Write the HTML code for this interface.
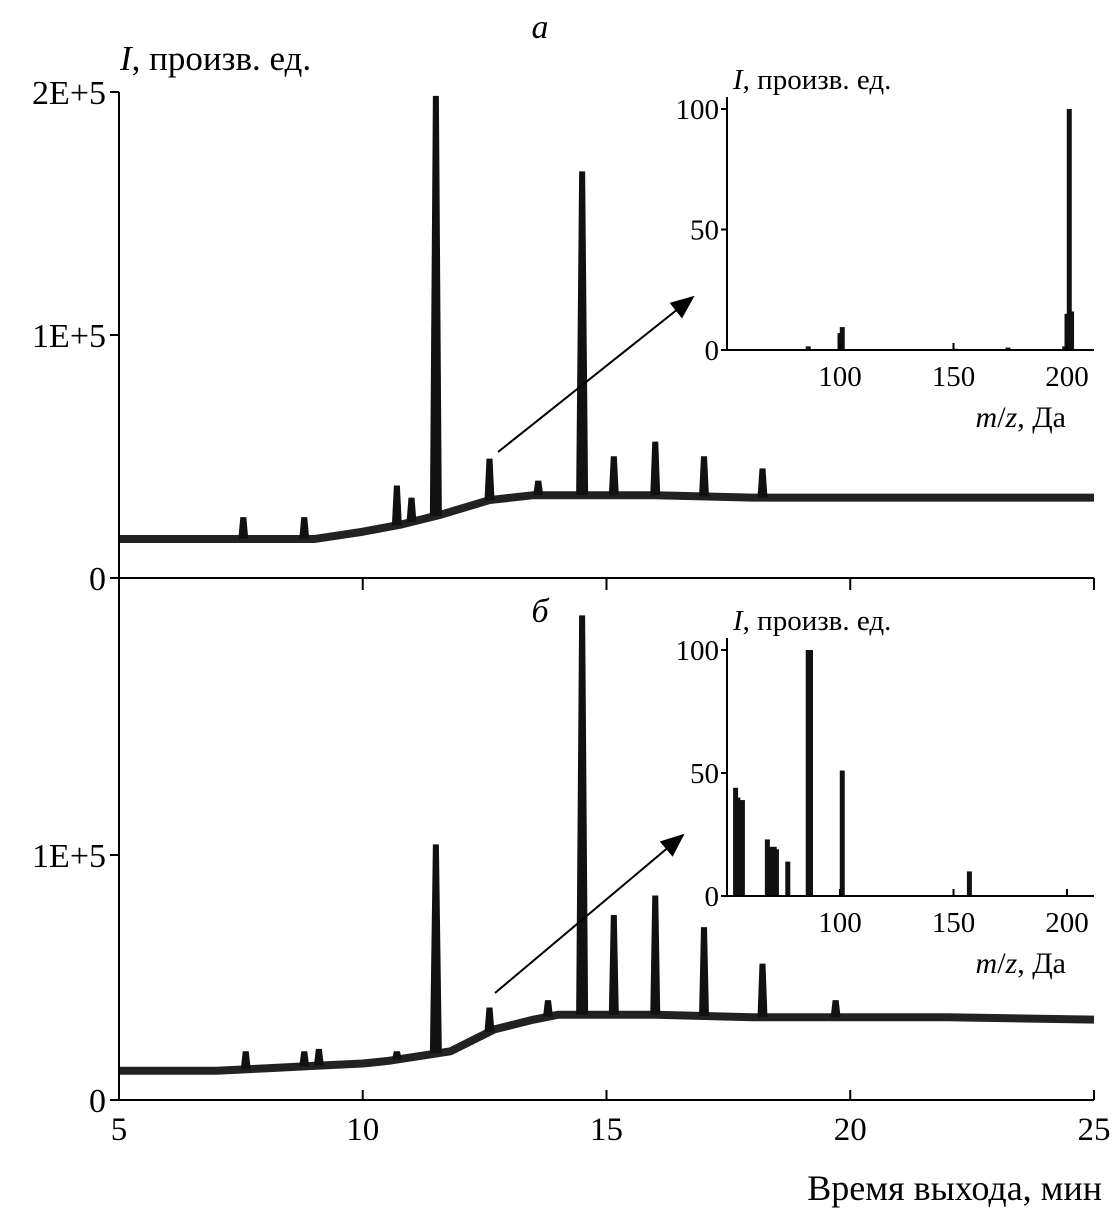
<!DOCTYPE html>
<html><head><meta charset="utf-8">
<style>
html,body{margin:0;padding:0;background:#fff;}
svg{display:block;font-family:"Liberation Serif",serif;}
</style></head>
<body>
<svg id="chart" width="1117" height="1213" viewBox="0 0 1117 1213" xmlns="http://www.w3.org/2000/svg">
<defs><marker id="ah" markerWidth="12" markerHeight="10" refX="11" refY="5" orient="auto"><path d="M0,0 L12,5 L0,10 Z" fill="#000"/></marker></defs>
</svg>
<script>
// ---- data ----
const baseTimesA = [5,6,7,8,9,10,10.8,11.6,12.6,13.5,14,16,18,20,22,25];
const baseValsA  = [0.16,0.16,0.16,0.16,0.16,0.19,0.22,0.26,0.32,0.34,0.34,0.34,0.33,0.33,0.33,0.33];
const peakTimesA = [7.55,8.8,10.7,11.0,11.5,12.6,13.6,14.5,15.15,16.0,17.0,18.2];
const peakValsA  = [0.25,0.25,0.38,0.33,1.98,0.49,0.40,1.67,0.50,0.56,0.50,0.45];
const baseTimesB = [5,6,7,8,9,10,10.5,11.8,12.7,13.5,14,16,18,20,22,25];
const baseValsB  = [0.12,0.12,0.12,0.13,0.14,0.15,0.16,0.20,0.29,0.33,0.35,0.35,0.34,0.34,0.34,0.33];
const peakTimesB = [7.6,8.8,9.1,10.7,11.5,12.6,13.8,14.5,15.15,16.0,17.0,18.2,19.7];
const peakValsB  = [0.20,0.20,0.21,0.20,1.05,0.38,0.41,1.99,0.76,0.84,0.71,0.56,0.41];
const msA_mz  = [86,100,101,151,174,199,200,201,202];
const msA_val = [1.5,7,9.5,0.5,1,1.5,15,100,16];
const msB_mz  = [54,55,57,68,69,70,71,72,77,86,87,101,157];
const msB_val = [44,40,39,23,20,15,20,19,14,100,100,51,10];
const xTicks = [5,10,15,20,25];
const msTicks = [100,150,200];

const svg = document.getElementById('chart');
const NS = 'http://www.w3.org/2000/svg';
function el(tag, attrs, parent){const e=document.createElementNS(NS,tag);for(const k in attrs)e.setAttribute(k,attrs[k]);(parent||svg).appendChild(e);return e;}
function txt(x,y,s,size,anchor,parent,style){const t=el('text',{x:x,y:y,'font-size':size,'text-anchor':anchor||'start'},parent);if(style)t.setAttribute('font-style',style);t.textContent=s;return t;}

const X = t => 119 + (t-5)*48.75;
const panels = [
 {name:'a', y0:578, bt:baseTimesA, bv:baseValsA, pt:peakTimesA, pv:peakValsA},
 {name:'b', y0:1100, bt:baseTimesB, bv:baseValsB, pt:peakTimesB, pv:peakValsB}
];
panels.forEach(p=>{
  const Y = v => p.y0 - v*243.5;
  const g = el('g',{});
  
  
  let pts = p.bt.map((t,i)=>X(t)+','+Y(p.bv[i])).join(' ');
  const bl = el('polyline',{points:pts,fill:'none',stroke:'#222','stroke-width':8,'stroke-linejoin':'round'},g);
  
  
  p.pt.forEach((t,i)=>{
    const interp = (()=>{for(let k=0;k<p.bt.length-1;k++){if(t>=p.bt[k]&&t<=p.bt[k+1]){const f=(t-p.bt[k])/(p.bt[k+1]-p.bt[k]);return p.bv[k]+f*(p.bv[k+1]-p.bv[k]);}}return p.bv[p.bv.length-1];})();
    const w = p.pv[i]>0.9?6:5;
    const pk = el('polygon',{points:`${X(t)-w},${Y(interp)} ${X(t)-3},${Y(p.pv[i])} ${X(t)+3},${Y(p.pv[i])} ${X(t)+w},${Y(interp)}`,fill:'#111'},g);
    
    
  });
});
const ax = el('g',{stroke:'#000','stroke-width':2,fill:'none'});


el('line',{x1:119,y1:92,x2:119,y2:1100},ax);
el('line',{x1:119,y1:578,x2:1094,y2:578},ax);
el('line',{x1:119,y1:1100,x2:1094,y2:1100},ax);
xTicks.forEach(t=>{el('line',{x1:X(t),y1:1100,x2:X(t),y2:1090},ax);el('line',{x1:X(t),y1:578,x2:X(t),y2:590},ax);});
[[92,'2E+5'],[335,'1E+5'],[578,'0'],[855,'1E+5'],[1100,'0']].forEach(([y,s])=>{
  el('line',{x1:110,y1:y,x2:119,y2:y},ax);
  const t=txt(106,y+12,s,34,'end');
  
  
});
xTicks.forEach(t=>{const l=txt(X(t),1140,String(t),33,'middle');});
const xt=txt(1102,1200,'Время выхода, мин',36,'end');


const yt=el('text',{x:120,y:70,'font-size':35});


yt.innerHTML='<tspan font-style="italic">I</tspan>, произв. ед.';
const la=txt(540,38,'а',34,'middle',null,'italic');
const lb=txt(540,622,'б',34,'middle',null,'italic');
const ar1=el('line',{x1:498,y1:452,x2:693,y2:297,stroke:'#000','stroke-width':2,'marker-end':'url(#ah)'});

const ar2=el('line',{x1:495,y1:993,x2:683,y2:835,stroke:'#000','stroke-width':2,'marker-end':'url(#ah)'});

const MX = m => 840 + (m-100)*2.27;
[{n:'a',y0:350,y100:109,mz:msA_mz,v:msA_val},{n:'b',y0:896,y100:650,mz:msB_mz,v:msB_val}].forEach(s=>{
  const g=el('g',{});
  
  
  const MY = v => s.y0 - v*(s.y0-s.y100)/100;
  s.mz.forEach((m,i)=>{
    const b=el('rect',{x:MX(m)-2.5,y:MY(s.v[i]),width:5,height:s.y0-MY(s.v[i]),fill:'#111'},g);
    
    
  });
  el('line',{x1:727,y1:s.y100-12,x2:727,y2:s.y0,stroke:'#000','stroke-width':2},g);
  el('line',{x1:727,y1:s.y0,x2:1094,y2:s.y0,stroke:'#000','stroke-width':2},g);
  [0,50,100].forEach(v=>{el('line',{x1:721,y1:MY(v),x2:727,y2:MY(v),stroke:'#000','stroke-width':2},g);txt(719,MY(v)+10,String(v),29,'end',g);});
  msTicks.forEach(m=>{el('line',{x1:MX(m),y1:s.y0,x2:MX(m),y2:s.y0-7,stroke:'#000','stroke-width':2},g);txt(MX(m),s.y0+36,String(m),29,'middle',g);});
  const t1=el('text',{x:733,y:s.y100-20,'font-size':29},g);t1.innerHTML='<tspan font-style="italic">I</tspan>, произв. ед.';
  const t2=el('text',{x:1066,y:s.y0+77,'font-size':30,'text-anchor':'end'},g);t2.innerHTML='<tspan font-style="italic">m</tspan>/<tspan font-style="italic">z</tspan>, Да';
});
</script>
</body></html>
